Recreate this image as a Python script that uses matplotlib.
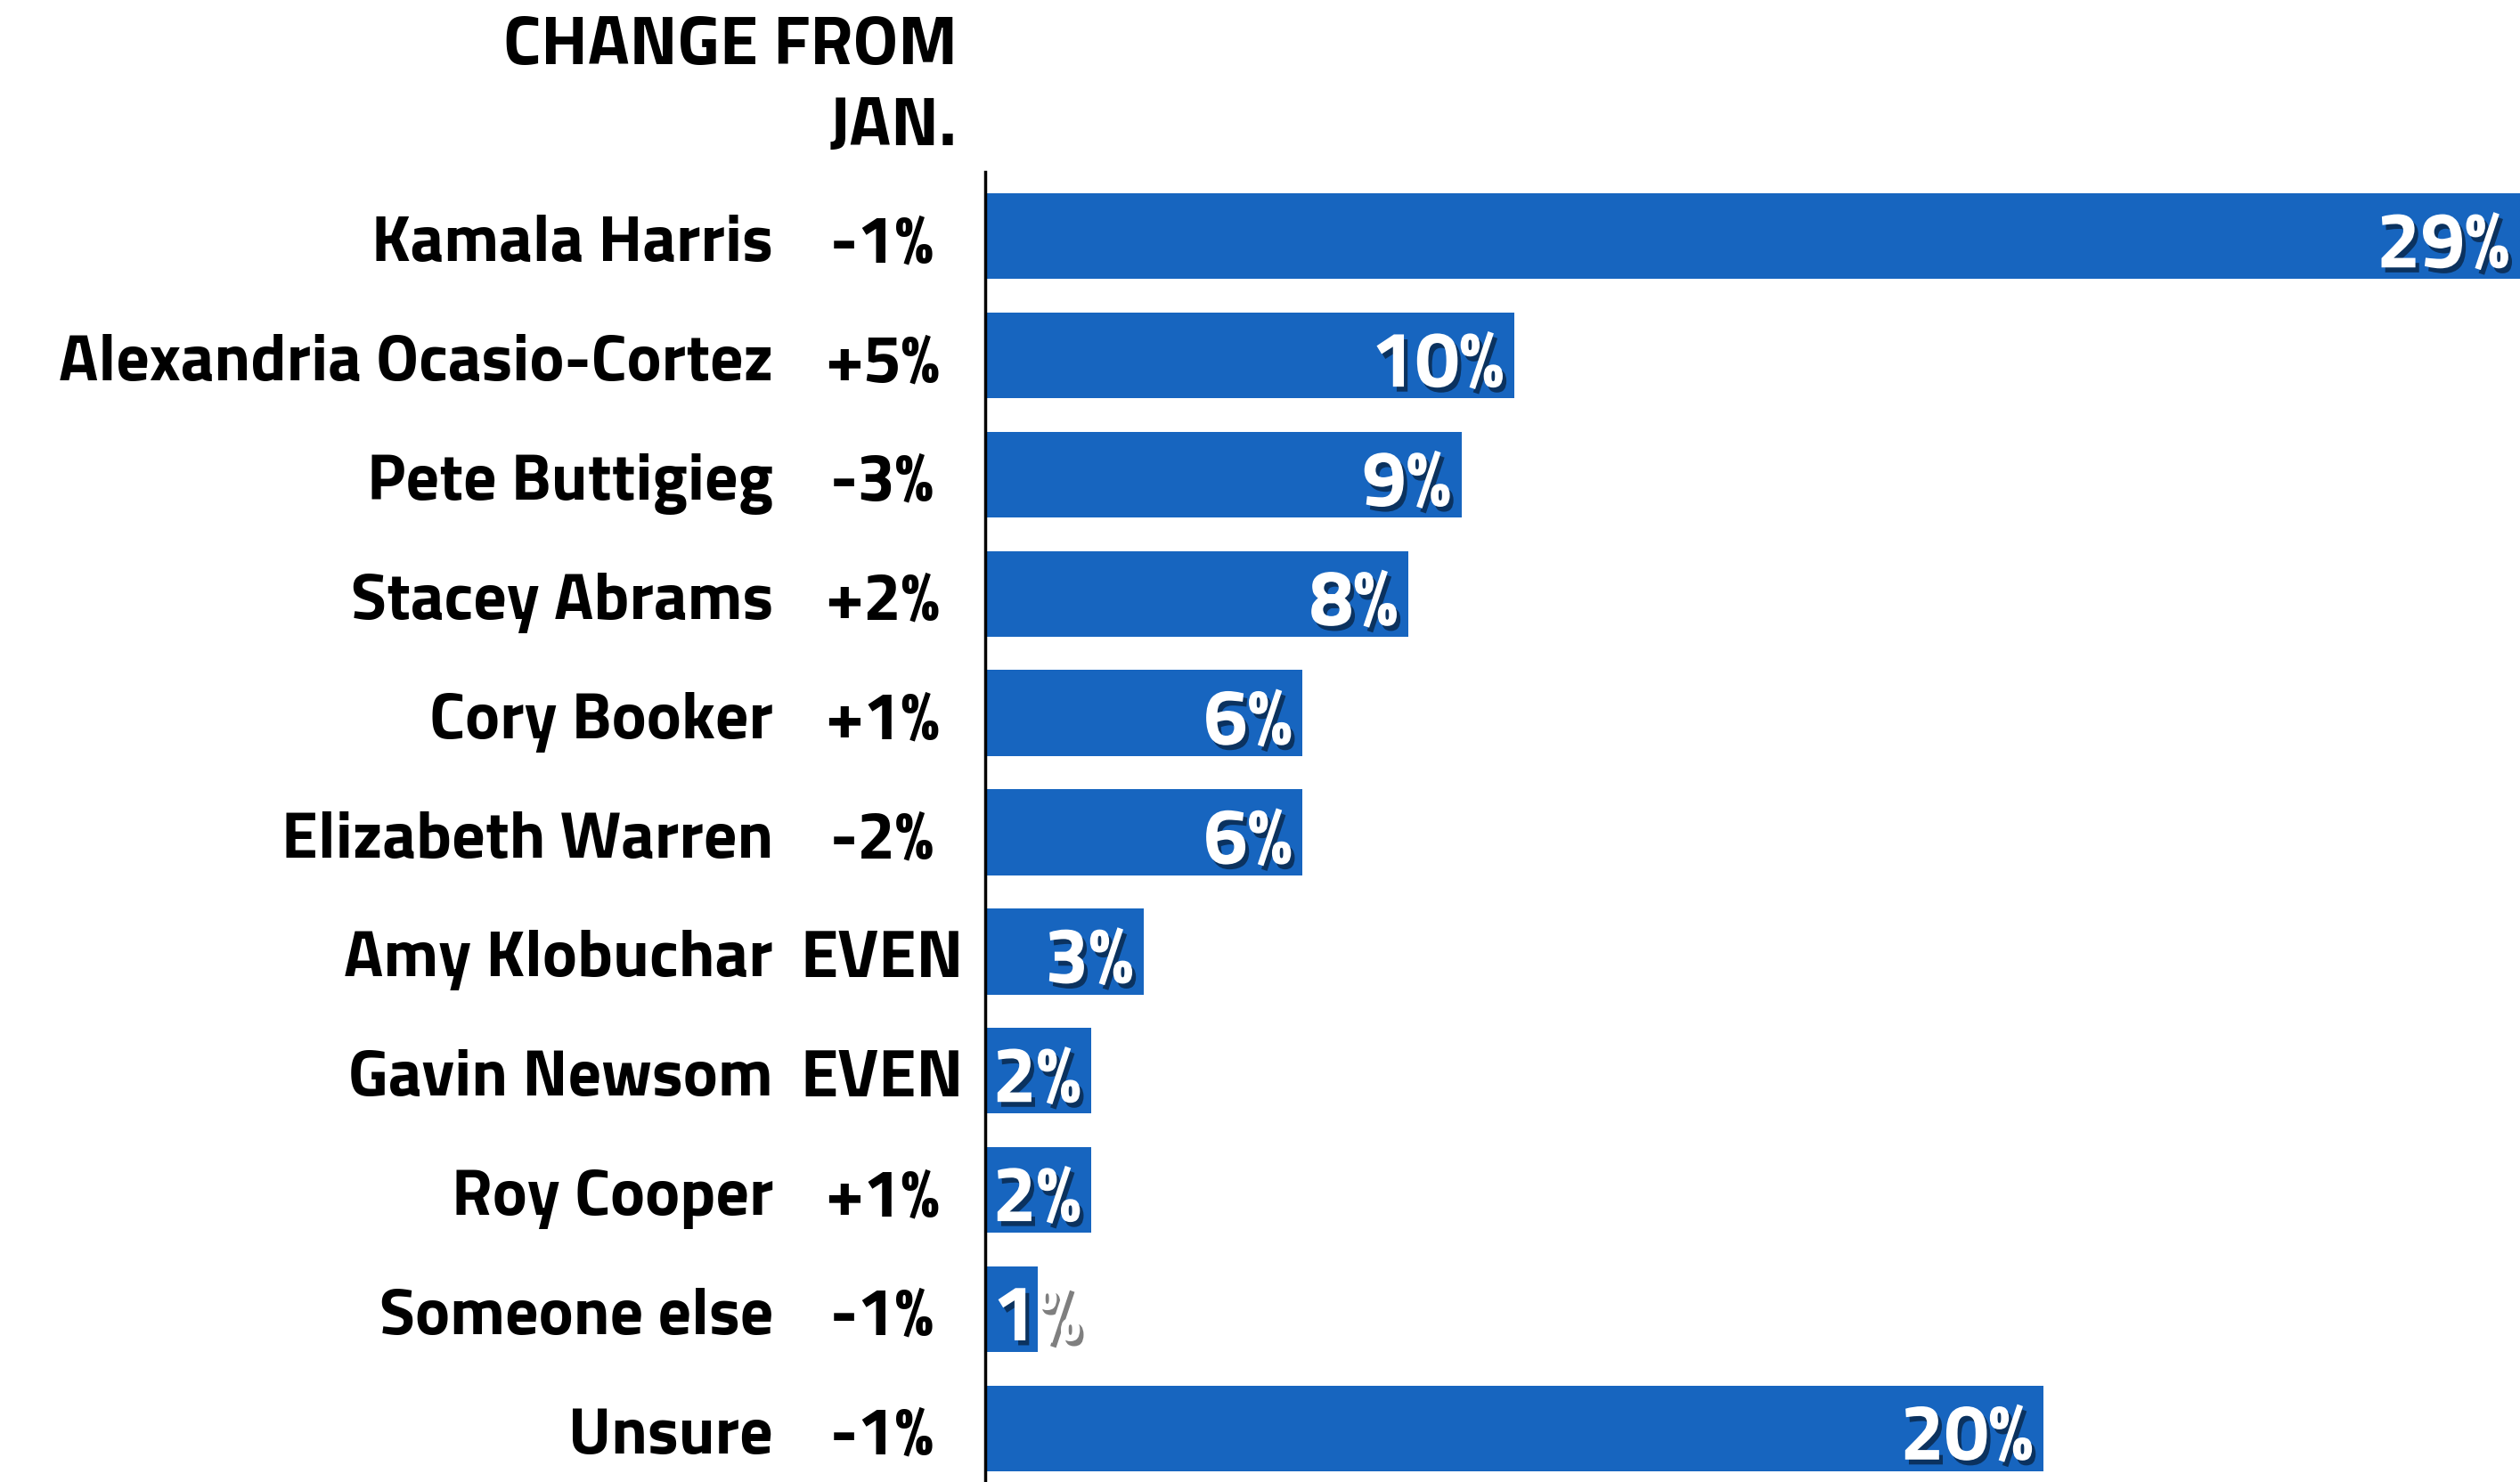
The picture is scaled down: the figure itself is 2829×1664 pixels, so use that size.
import matplotlib
matplotlib.use("Agg")
import matplotlib.pyplot as plt
import matplotlib.patheffects as pe

# poll numbers
names = ["Kamala Harris", "Alexandria Ocasio-Cortez", "Pete Buttigieg", "Stacey Abrams",
         "Cory Booker", "Elizabeth Warren", "Amy Klobuchar", "Gavin Newsom", "Roy Cooper",
         "Someone else", "Unsure"]
support = [29, 10, 9, 8, 6, 6, 3, 2, 2, 1, 20]
change = ["-1%", "+5%", "-3%", "+2%", "+1%", "-2%", "EVEN", "EVEN", "+1%", "-1%", "-1%"]

BLUE = "#1765bf"
FONT = "Titillium Web"

W, H = 2829, 1664
fig = plt.figure(figsize=(W / 100, H / 100), dpi=100)
ax = fig.add_axes([1106 / W, 0, 1 - 1106 / W, 1 - 193 / H])

y = list(range(len(names)))
ax.barh(y, support, height=0.72, color=BLUE)
ax.set_xlim(0, 29)
ax.set_ylim(10.45, -0.54)

for s in ["top", "right", "bottom"]:
    ax.spines[s].set_visible(False)
ax.spines["left"].set_linewidth(2.5)
ax.spines["left"].set_color("black")
ax.set_xticks([])
ax.set_yticks([])

# row labels: name and change since January
for i, (n, c) in enumerate(zip(names, change)):
    ax.annotate(n, xy=(-0.138, i), xycoords=("axes fraction", "data"),
                xytext=(0, -28), textcoords="offset pixels",
                ha="right", va="baseline", family=FONT, fontweight="bold",
                fontsize=53, color="black")
    ax.annotate(c, xy=(-0.0673, i), xycoords=("axes fraction", "data"),
                xytext=(0, -29), textcoords="offset pixels",
                ha="center", va="baseline", family=FONT, fontweight="bold",
                fontsize=55, color="black")

fig.text(1075 / W, 1 - 72 / H, "CHANGE FROM", ha="right", va="baseline",
         family=FONT, fontweight="bold", fontsize=56)
fig.text(1075 / W, 1 - 163 / H, "JAN.", ha="right", va="baseline",
         family=FONT, fontweight="bold", fontsize=56)

# value labels with a drop shadow, inside the bar end when they fit
shadow = [pe.SimplePatchShadow(offset=(3, -4), shadow_rgbFace="black", alpha=0.5), pe.Normal()]
fig.canvas.draw()
renderer = fig.canvas.get_renderer()
x0 = ax.transData.transform((0, 0))[0]
for i, v in enumerate(support):
    t = ax.annotate(f"{v}%", xy=(v, i), xytext=(-12, -35), textcoords="offset pixels",
                    ha="right", va="baseline", family=FONT, fontweight="bold",
                    fontsize=64, color="white", path_effects=shadow, annotation_clip=False)
    bb = t.get_window_extent(renderer)
    if bb.x0 < x0 + 8:
        t.remove()
        ax.annotate(f"{v}%", xy=(0, i), xytext=(8, -35), textcoords="offset pixels",
                    ha="left", va="baseline", family=FONT, fontweight="bold",
                    fontsize=64, color="white", path_effects=shadow, annotation_clip=False)

fig.savefig("out.png", dpi=100)
